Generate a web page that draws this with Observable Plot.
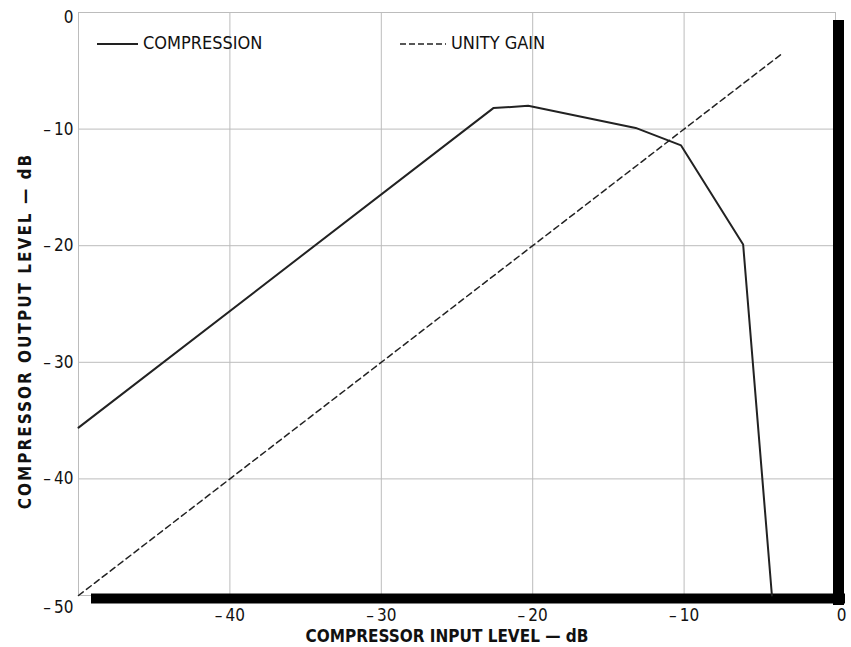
<!DOCTYPE html>
<html><head><meta charset="utf-8">
<script src="https://cdn.jsdelivr.net/npm/d3@7"></script>
<script src="https://cdn.jsdelivr.net/npm/@observablehq/plot@0.6"></script>
<style>
html,body{margin:0;padding:0;background:#fff;}
#wrap{position:relative;width:851px;height:647px;font-family:"Liberation Sans Narrow","DejaVu Sans Condensed","Roboto",sans-serif;}
#wrap svg{position:absolute;left:0;top:0;}
.leg{position:absolute;font-size:18px;color:#111;display:flex;align-items:center;white-space:nowrap;}
.leg svg{position:static !important;margin-right:5px;}
</style>
</head><body>
<div id="wrap"></div>
<script>
// Compression curve (input dB -> output dB)
const compIn  = [-50, -22.6, -20.3, -13.2, -10.2, -6.1, -4.2];
const compOut = [-35.6, -8.2, -8.0, -9.9, -11.4, -19.9, -50];
// Unity gain reference line
const unityIn  = [-50, -3.5];
const unityOut = [-50, -3.5];
// Ticks
const xTicks = [-50, -40, -30, -20, -10, 0];
const yTicks = [-50, -40, -30, -20, -10, 0];
const xTitle = "COMPRESSOR INPUT LEVEL \u2014 dB";
const yTitle = "COMPRESSOR OUTPUT LEVEL \u2014 dB";
const legendLabels = ["COMPRESSION", "UNITY GAIN"];

const comp = compIn.map((x, i) => ({x, y: compOut[i]}));
const unity = unityIn.map((x, i) => ({x, y: unityOut[i]}));
const fmt = d => d === 0 ? "0" : "\u2013\u2002" .slice(0,1) + "\u2009" + Math.abs(d);
const font = '"Liberation Sans Narrow","DejaVu Sans Condensed",sans-serif';

const chart = Plot.plot({
  width: 851, height: 647,
  marginLeft: 78, marginRight: 16, marginTop: 12, marginBottom: 52,
  style: {fontFamily: font, background: "#fff", color: "#111"},
  x: {domain: [-50, 0], label: null},
  y: {domain: [-50, 0], label: null},
  marks: [
    Plot.gridX(xTicks, {stroke: "#bcbcbc", strokeOpacity: 1}),
    Plot.gridY(yTicks, {stroke: "#bcbcbc", strokeOpacity: 1}),
    Plot.axisX(xTicks.filter(d => d < 0 && d > -50), {tickSize: 0, tickPadding: 13, fontSize: 17, tickFormat: fmt, label: null}),
    Plot.axisX([0], {tickSize: 0, tickPadding: 13, fontSize: 17, tickFormat: fmt, label: null, dx: 6}),
    Plot.axisY(yTicks.filter(d => d < 0 && d > -50), {tickSize: 0, tickPadding: 5, fontSize: 17, tickFormat: fmt, label: null}),
    Plot.axisY([-50], {tickSize: 0, tickPadding: 5, fontSize: 17, tickFormat: fmt, label: null, dy: 12}),
    Plot.axisY([0], {tickSize: 0, tickPadding: 5, fontSize: 17, tickFormat: fmt, label: null, dy: 5}),
    // drop-shadow frame
    Plot.ruleY([-50], {x1: -50, x2: 0, stroke: "#000", strokeWidth: 10, dy: 3, insetLeft: 13, insetRight: -10}),
    Plot.ruleX([0], {y1: -50, y2: 0, stroke: "#000", strokeWidth: 11, dx: 3, insetTop: 10, insetBottom: -8}),
    Plot.line(unity, {x: "x", y: "y", stroke: "#222", strokeWidth: 1.5, strokeDasharray: "6,4"}),
    Plot.line(comp, {x: "x", y: "y", stroke: "#222", strokeWidth: 2}),
    Plot.text([xTitle], {frameAnchor: "bottom", dx: -10, dy: 46, fontSize: 17, fontWeight: "bold", fill: "#111"}),
    Plot.text([yTitle], {frameAnchor: "left", textAnchor: "middle", rotate: -90, dx: -53, dy: 27, fontSize: 17, fontWeight: "bold", fill: "#111"})
  ]
});
d3.select(chart).selectAll("text").filter(function() { return this.textContent === yTitle; }).style("letter-spacing", "2px");
const wrap = document.getElementById("wrap");
wrap.appendChild(chart);

function legend(label, dash, left, sampleW) {
  const d = document.createElement("div");
  d.className = "leg";
  d.style.left = left + "px";
  d.style.top = "32px";
  d.innerHTML = `<svg width="${sampleW}" height="20"><line x1="0" x2="${sampleW}" y1="11" y2="11" stroke="#222" stroke-width="${dash ? 1.5 : 2}" ${dash ? 'stroke-dasharray="6,3"' : ''}/></svg><span>${label}</span>`;
  wrap.appendChild(d);
}
legend(legendLabels[0], false, 97, 41);
legend(legendLabels[1], true, 400, 46);
</script>
</body></html>
